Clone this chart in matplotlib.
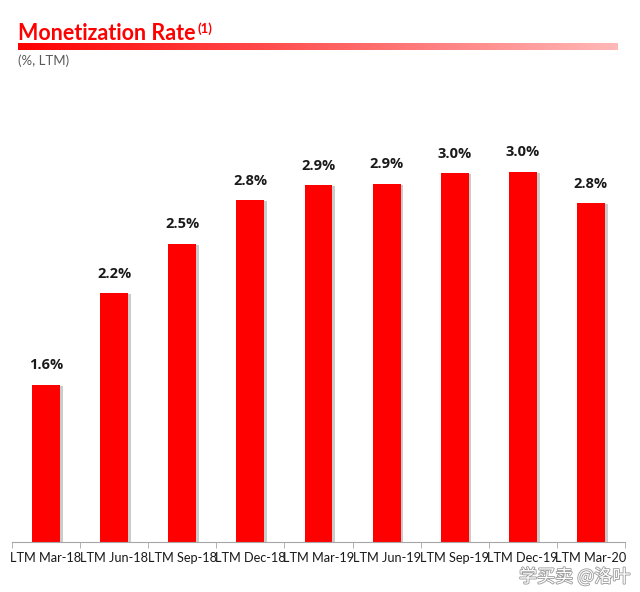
import numpy as np
import matplotlib
matplotlib.use("Agg")
import matplotlib.pyplot as plt
import matplotlib.patheffects as pe
from matplotlib.colors import LinearSegmentedColormap

# data
periods = ["LTM Mar-18", "LTM Jun-18", "LTM Sep-18", "LTM Dec-18", "LTM Mar-19",
           "LTM Jun-19", "LTM Sep-19", "LTM Dec-19", "LTM Mar-20"]
rates = [1.60, 2.21, 2.54, 2.83, 2.93, 2.94, 3.01, 3.02, 2.81]

red = "#ff0000"

fig = plt.figure(figsize=(6.4, 5.92), dpi=100)

# main bar axes
ax = fig.add_axes([12/640, 1-542/592, 613/640, 442/592])
x = np.arange(len(periods))
bars = ax.bar(x, rates, width=0.41, color=red, zorder=2,
              path_effects=[pe.SimplePatchShadow(offset=(2, -1), shadow_rgbFace="#999999", alpha=0.5), pe.Normal()])
ax.set_ylim(0.55, 0.55 + 442/150)
ax.set_xlim(-0.5, len(periods) - 0.5)

for xi, v in zip(x, rates):
	ax.annotate(f"{v:.1f}%", (xi, v), xytext=(0, 9), textcoords="offset points",
	            ha="center", va="bottom", fontsize=10.5, fontweight="bold",
	            family="Open Sans", color="#1a1a1a")

for s in ["top", "right", "left"]:
	ax.spines[s].set_visible(False)
ax.spines["bottom"].set_color("#a6a6a6")
ax.set_yticks([])
ax.set_xticks(x)
ax.set_xticklabels(periods, fontsize=9.2, family="Lato", color="#1a1a1a")
ax.tick_params(axis="x", length=0, pad=7)
ax.set_xticks(np.arange(-0.5, len(periods)), minor=True)
ax.tick_params(axis="x", which="minor", length=4, color="#a6a6a6")

# title, gradient rule and subtitle
fig.text(18/640, 1-34/592, "Monetization Rate", fontsize=15.5,
         fontweight="bold", family="Lato", color=red, va="center", ha="left")
fig.text(197/640, 1-29/592, "(1)", fontsize=9.5,
         fontweight="bold", family="Lato", color=red, va="center", ha="left")
grad_ax = fig.add_axes([18/640, 1-50/592, 600/640, 7/592])
cmap = LinearSegmentedColormap.from_list("rule", ["#ff0000", "#ffb8b8"])
grad_ax.imshow(np.linspace(0, 1, 256).reshape(1, -1), aspect="auto", cmap=cmap)
grad_ax.axis("off")
fig.text(18/640, 1-61/592, "(%, LTM)", fontsize=9.5, family="Lato", color="#595959",
         va="center", ha="left")

# watermark
fig.text(630/640, 1-577/592, "学买卖 @洛叶", fontsize=13, family=["Noto Sans CJK SC", "DejaVu Sans"],
         color="white", ha="right", va="center",
         path_effects=[pe.withStroke(linewidth=1.2, foreground="#9a9a9a")])

fig.savefig("out.png", dpi=100)
